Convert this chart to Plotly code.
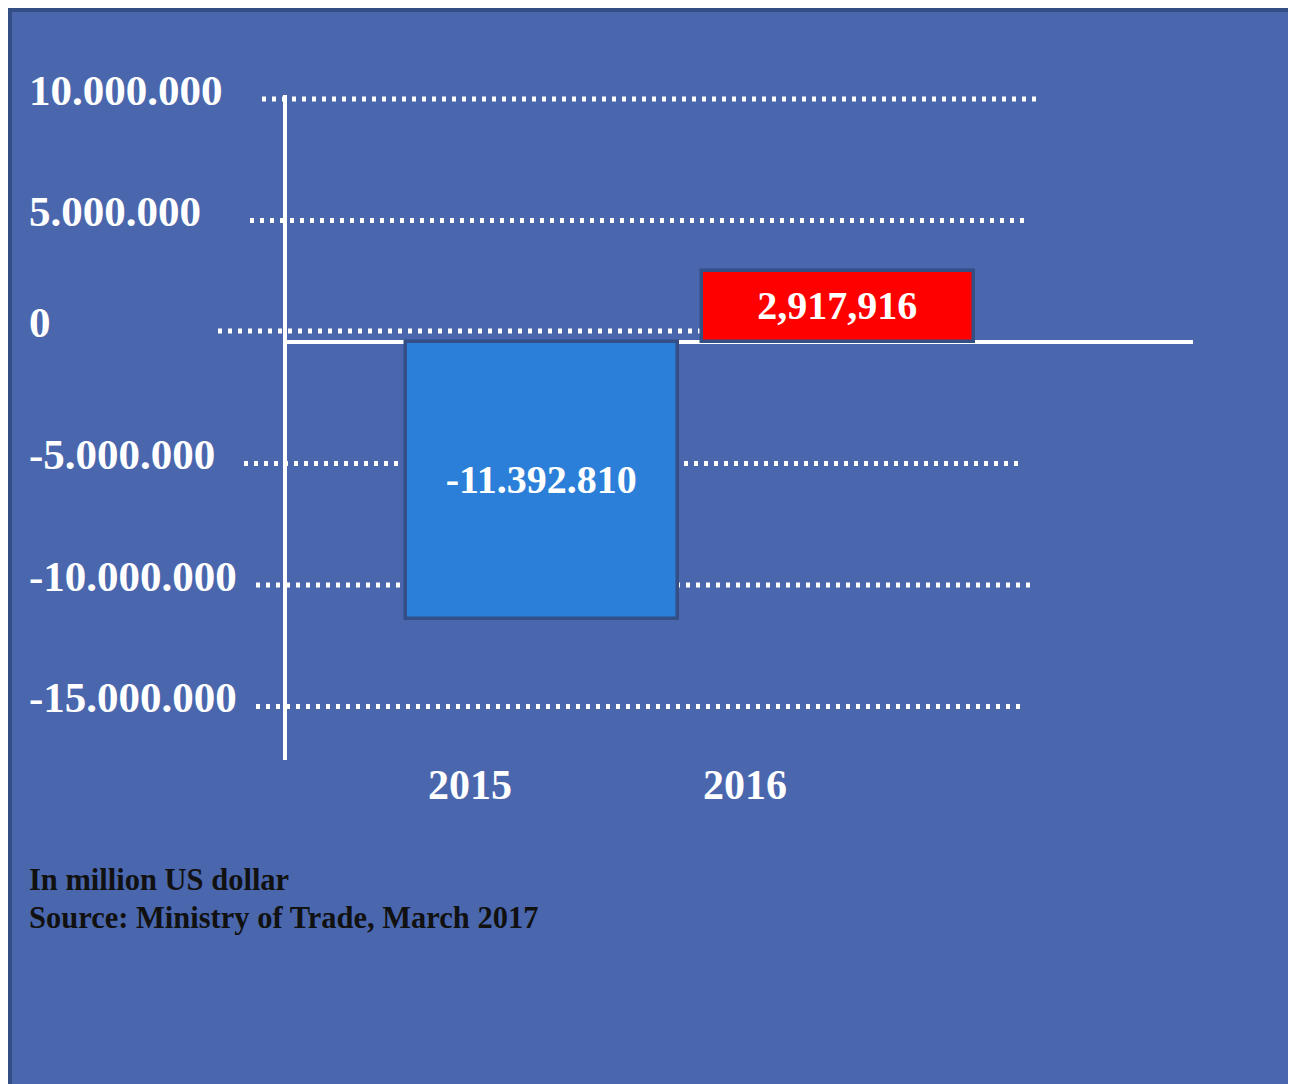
import plotly.graph_objects as go

# ---- data ----
years = ["2015", "2016"]
balance = [-11392810, 2917916]
bar_labels = ["-11.392.810", "2,917,916"]
tick_values = [10000000, 5000000, 0, -5000000, -10000000, -15000000]
tick_labels = ["10.000.000", "5.000.000", "0", "-5.000.000", "-10.000.000", "-15.000.000"]
note_lines = ["In million US dollar", "Source: Ministry of Trade, March 2017"]

# ---- geometry (page pixels; the page body adds an 8px margin) ----
OFF = 8
W, H = 1296 - OFF, 1084 - OFF
PL, PR, PT, PB = 287 - OFF, 1193 - OFF, 95 - OFF, 760 - OFF
PW, PH = PR - PL, PB - PT
ZERO_PX = 342 - OFF
K = 24.3 / 1e6  # px per unit

def px_x(px):  # page px -> paper
    return (px - OFF - PL) / PW

def px_y(py):
    return (PB - (py - OFF)) / PH

y_top = (ZERO_PX - PT) / K
y_bot = -(PB - ZERO_PX) / K

BG = "#4A67AE"
BORDER = "#344E86"
FONT = "Liberation Serif"

fig = go.Figure()
fig.add_trace(go.Bar(
    x=years, y=balance, text=bar_labels,
    width=0.92,
    marker=dict(color=["#2B7FD8", "#FF0000"], line=dict(color=BORDER, width=3.5)),
    textposition="inside", insidetextanchor="middle", constraintext="none",
    textfont=dict(family=FONT, size=40, color="white", weight="bold"),
    cliponaxis=False, hoverinfo="skip",
))

shapes = [dict(type="rect", xref="paper", yref="paper", layer="below",
               x0=px_x(OFF + 2), x1=px_x(1320), y0=px_y(1110), y1=px_y(OFF + 2),
               fillcolor=BG, line=dict(color=BORDER, width=4))]

grid_extent = [(262, 1040), (250, 1028), (218, 700), (244, 1020), (256, 1032), (256, 1022)]
grid_lift = [0, 0, 11, 0, 0, 0]  # px lift of the dotted line above its value
for v, (a, b), lift in zip(tick_values, grid_extent, grid_lift):
    shapes.append(dict(type="line", xref="paper", yref="y", layer="below",
                       ysizemode="pixel", yanchor=v, y0=lift, y1=lift,
                       x0=px_x(a), x1=px_x(b),
                       line=dict(color="white", width=5, dash="4px,6px")))

annotations = []
for v, t, lift in zip(tick_values, tick_labels, grid_lift):
    annotations.append(dict(xref="paper", yref="y", x=px_x(27), y=v, text=t,
                            xanchor="left", yanchor="middle", yshift=9 + lift, showarrow=False,
                            font=dict(family=FONT, size=43, color="white", weight="bold")))

year_shift = [-72, -93]
for i, (yr, s) in enumerate(zip(years, year_shift)):
    annotations.append(dict(xref="x", yref="paper", x=i, y=px_y(785), text=yr,
                            xanchor="center", yanchor="middle", xshift=s, showarrow=False,
                            font=dict(family=FONT, size=42, color="white", weight="bold")))

for i, line in enumerate(note_lines):
    annotations.append(dict(xref="paper", yref="paper", x=px_x(27), y=px_y(880 + 38 * i), text=line,
                            xanchor="left", yanchor="middle", showarrow=False,
                            font=dict(family=FONT, size=30.5, color="#111111", weight="bold")))

fig.update_layout(
    width=W, height=H,
    margin=dict(l=PL, r=W - PR, t=PT, b=H - PB, pad=0),
    paper_bgcolor="white", plot_bgcolor="rgba(0,0,0,0)",
    showlegend=False,
    shapes=shapes, annotations=annotations,
    bargap=0,
    xaxis=dict(type="category", range=[-0.861, 2.199], showticklabels=False, showgrid=False,
               zeroline=False, showline=False, ticks="", fixedrange=True),
    yaxis=dict(range=[y_bot, y_top], showticklabels=False, showgrid=False, ticks="",
               zeroline=True, zerolinecolor="white", zerolinewidth=4,
               showline=True, linecolor="white", linewidth=4, layer="above traces",
               fixedrange=True),
)

fig.write_html("out.html")
